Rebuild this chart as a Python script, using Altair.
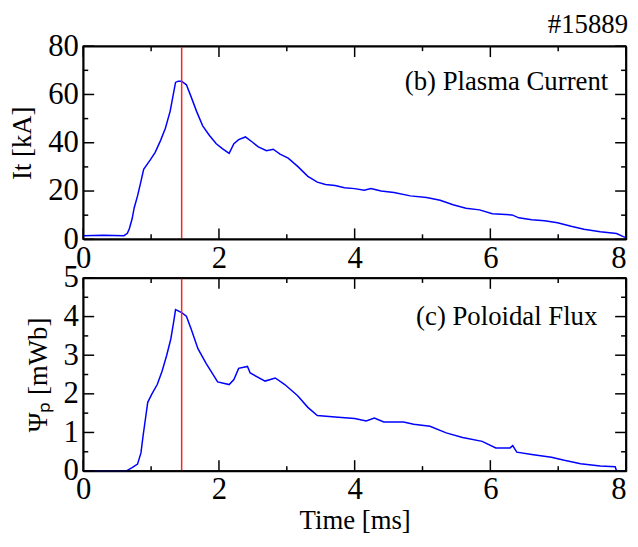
import altair as alt
import pandas as pd

# ---- data ----
t_it = [0, 0.3, 0.6, 0.65, 0.68, 0.72, 0.75, 0.8, 0.85, 0.89, 0.99, 1.06, 1.14, 1.21, 1.28,
        1.32, 1.36, 1.40, 1.45, 1.52, 1.59, 1.67, 1.76, 1.86, 1.96, 2.05, 2.15, 2.22, 2.29,
        2.39, 2.49, 2.58, 2.7, 2.8, 2.9, 3.02, 3.16, 3.31, 3.45, 3.57, 3.71, 3.85, 4.0, 4.14,
        4.24, 4.39, 4.58, 4.82, 5.06, 5.26, 5.45, 5.64, 5.84, 6.03, 6.32, 6.42, 6.61, 6.8,
        6.99, 7.19, 7.38, 7.62, 7.86, 7.96, 8.0]
it_vals = [1.5, 1.7, 1.5, 2.5, 4.5, 8.5, 13, 18, 24, 29, 33, 36, 41, 46, 53,
           59, 65, 65.5, 65.5, 64, 59, 53, 47, 43, 39.6, 37.6, 35.6, 39.6, 41.3,
           42.4, 40.3, 38.3, 36.7, 37.3, 35.3, 33.6, 30.2, 26.1, 23.7, 22.7, 22.3, 21.4, 21.0, 20.3,
           21.0, 20.0, 19.4, 18.0, 17.3, 16.2, 14.3, 12.9, 12.2, 10.6, 10.1, 8.9, 8.1, 7.7,
           6.9, 5.4, 4.2, 3.1, 2.4, 1.1, 0.7]

t_psi = [0, 0.63, 0.72, 0.8, 0.85, 0.88, 0.92, 0.95, 1.01, 1.09, 1.16, 1.23, 1.29, 1.33,
         1.36, 1.45, 1.52, 1.59, 1.69, 1.81, 1.93, 1.98, 2.15, 2.22, 2.29, 2.42, 2.46, 2.68,
         2.83, 2.97, 3.16, 3.31, 3.45, 3.71, 4.0, 4.17, 4.29, 4.43, 4.72, 4.87, 5.11, 5.35,
         5.59, 5.88, 6.08, 6.29, 6.33, 6.39, 6.61, 6.9, 7.09, 7.33, 7.62, 7.84, 7.86, 8.0]
psi_vals = [0, 0, 0.09, 0.18, 0.47, 0.89, 1.4, 1.78, 1.99, 2.24, 2.58, 3.0, 3.42, 3.84,
            4.18, 4.1, 4.01, 3.68, 3.17, 2.79, 2.45, 2.31, 2.24, 2.37, 2.66, 2.71, 2.54, 2.33,
            2.41, 2.24, 1.95, 1.65, 1.44, 1.4, 1.36, 1.3, 1.37, 1.27, 1.27, 1.21, 1.16, 0.99,
            0.87, 0.77, 0.6, 0.6, 0.66, 0.49, 0.43, 0.36, 0.28, 0.19, 0.13, 0.11, 0, 0]

peak_time = [1.45]
x_domain = [0, 8]
x_major = [0, 2, 4, 6, 8]
x_minor = [1, 3, 5, 7]
it_domain = [0, 80]
it_major = [0, 20, 40, 60, 80]
it_minor = [10, 30, 50, 70]
psi_domain = [0, 5]
psi_major = [0, 1, 2, 3, 4, 5]
psi_minor = [0.5, 1.5, 2.5, 3.5, 4.5]
shot_label = ["#15889"]

W, H = 548, 195
FONT = "Liberation Serif"
MAJ, MIN = 11, 5  # tick lengths in pixels


def frame_axis(orient):
    # label-less axis whose domain line draws one side of the frame
    return alt.Axis(orient=orient, labels=False, ticks=False, grid=False, title=None,
                    domain=True, domainColor="black", domainWidth=1.5)


def panel(t, v, ydom, ymaj, ymin, ytitle, label, lx, ly, xtitle):
    df = pd.DataFrame({"t": t, "v": v})
    xscale = alt.Scale(domain=x_domain, nice=False, zero=False)
    yscale = alt.Scale(domain=ydom, nice=False)
    common = dict(ticks=False, grid=False, labelFlush=False,
                  domain=True, domainColor="black", domainWidth=1.5,
                  labelFont=FONT, titleFont=FONT, labelColor="black",
                  titleColor="black", labelFontSize=31, titleFontSize=27,
                  titleFontWeight="normal", format="d")
    xaxis = alt.Axis(values=x_major, title=xtitle, labelPadding=4, titlePadding=3,
                     orient="bottom",
                     labelAlign={"condition": {"test": "datum.value == 8", "value": "right"},
                                 "value": "center"},
                     **common)
    yaxis = alt.Axis(values=ymaj, title=ytitle, labelPadding=5, titlePadding=11,
                     orient="left", **common)

    line = alt.Chart(df).mark_line(color="#0000ff", strokeWidth=1.5).encode(
        x=alt.X("t:Q", scale=xscale, axis=xaxis),
        y=alt.Y("v:Q", scale=yscale, axis=yaxis))
    red = alt.Chart(pd.DataFrame({"t": peak_time})).mark_rule(
        color="#ff2020", strokeWidth=1.5).encode(x=alt.X("t:Q", axis=frame_axis("top")))
    layers = [line, red]
    # vertical pieces: x ticks (bottom / top) and the left / right frame edges
    for vals, y0, y1 in ((x_major, H, H - MAJ), (x_major, 0, MAJ),
                         (x_minor, H, H - MIN), (x_minor, 0, MIN),
                         (x_domain, 0, H)):
        layers.append(alt.Chart(pd.DataFrame({"t": vals})).mark_rule(
            color="black", strokeWidth=1.5).encode(
            x=alt.X("t:Q", axis=None), y=alt.value(y0), y2=alt.value(y1)))
    # horizontal pieces: y ticks (left / right) and the bottom / top frame edges
    first = True
    for vals, x0, x1 in ((ymaj, 0, MAJ), (ymaj, W, W - MAJ),
                         (ymin, 0, MIN), (ymin, W, W - MIN),
                         (ydom, 0, W)):
        ax = frame_axis("right") if first else None
        first = False
        layers.append(alt.Chart(pd.DataFrame({"v": vals})).mark_rule(
            color="black", strokeWidth=1.5).encode(
            y=alt.Y("v:Q", axis=ax), x=alt.value(x0), x2=alt.value(x1)))
    txt = alt.Chart(pd.DataFrame({"label": [label]})).mark_text(
        align="right", baseline="alphabetic", font=FONT, fontSize=27, color="black"
    ).encode(text="label:N", x=alt.value(lx), y=alt.value(ly))
    layers.append(txt)
    return layers


top_layers = panel(t_it, it_vals, it_domain, it_major, it_minor, "It [kA]",
                   "(b) Plasma Current", 530, 44, None)
top_layers.append(
    alt.Chart(pd.DataFrame({"label": shot_label})).mark_text(
        align="right", baseline="alphabetic", font=FONT, fontSize=27, color="black"
    ).encode(text="label:N", x=alt.value(W + 2), y=alt.value(-13)))
top = alt.layer(*top_layers).resolve_axis(x="independent", y="independent").properties(
    width=W, height=H)

bottom = alt.layer(*panel(t_psi, psi_vals, psi_domain, psi_major, psi_minor, "Ψₚ [mWb]",
                          "(c) Poloidal Flux", 519, 48, "Time [ms]")).resolve_axis(
    x="independent", y="independent").properties(width=W, height=H)

chart = alt.vconcat(top, bottom, spacing=39, bounds="flush").configure(
    background="white",
    padding={"left": 0, "top": 0, "right": 0, "bottom": 0},
).configure_view(stroke="black", strokeWidth=1.5)

chart.save("out.html", embed_options={"renderer": "svg", "actions": False})
